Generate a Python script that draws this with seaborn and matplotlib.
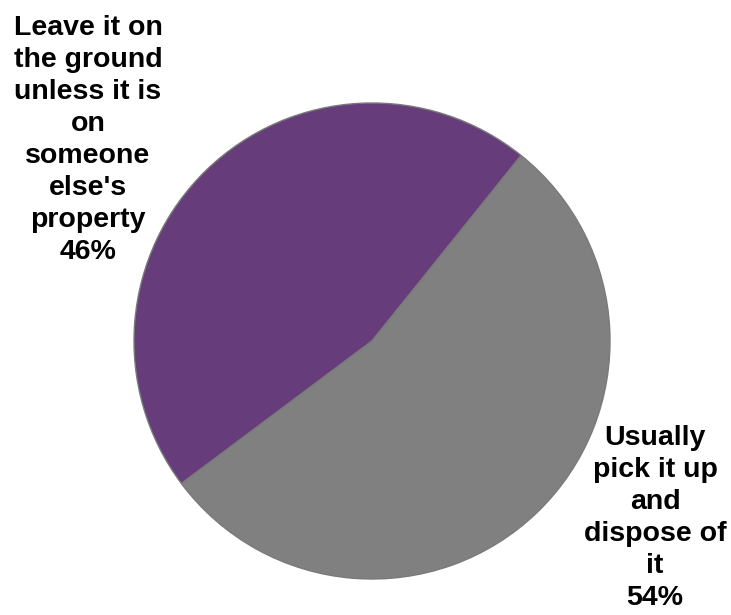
import matplotlib
matplotlib.use("Agg")
import matplotlib.pyplot as plt
import seaborn as sns

# Survey responses: what people do with litter they see on the ground
categories = [
    "Leave it on\nthe ground\nunless it is\non\nsomeone\nelse's\nproperty",
    "Usually\npick it up\nand\ndispose of\nit",
]
shares = [46, 54]
colors = ["#663c7a", "#808080"]

sns.set_theme(style="white")
plt.rcParams["font.family"] = ["Liberation Sans", "DejaVu Sans"]

W, H = 731, 615
fig = plt.figure(figsize=(W / 100, H / 100), dpi=100)
ax = fig.add_axes([0, 0, 1, 1])

cx, cy, r = 372, H - 341, 238
wedges, _ = ax.pie(
    shares,
    colors=colors,
    startangle=51.2,
    counterclock=True,
    center=(cx, cy),
    radius=r,
    wedgeprops=dict(edgecolor="#7a7a7a", linewidth=1.0),
)
ax.set_xlim(0, W)
ax.set_ylim(0, H)
ax.set_aspect("equal")
ax.axis("off")

label_pos = [(88, H - 140), (655, H - 518)]
for text, pct, (x, y) in zip(categories, shares, label_pos):
    ax.text(x, y, f"{text}\n{pct}%", ha="center", va="center",
            multialignment="center", fontsize=20.5, fontweight="bold",
            linespacing=1.3, color="black")

fig.savefig("out.png", dpi=100)
